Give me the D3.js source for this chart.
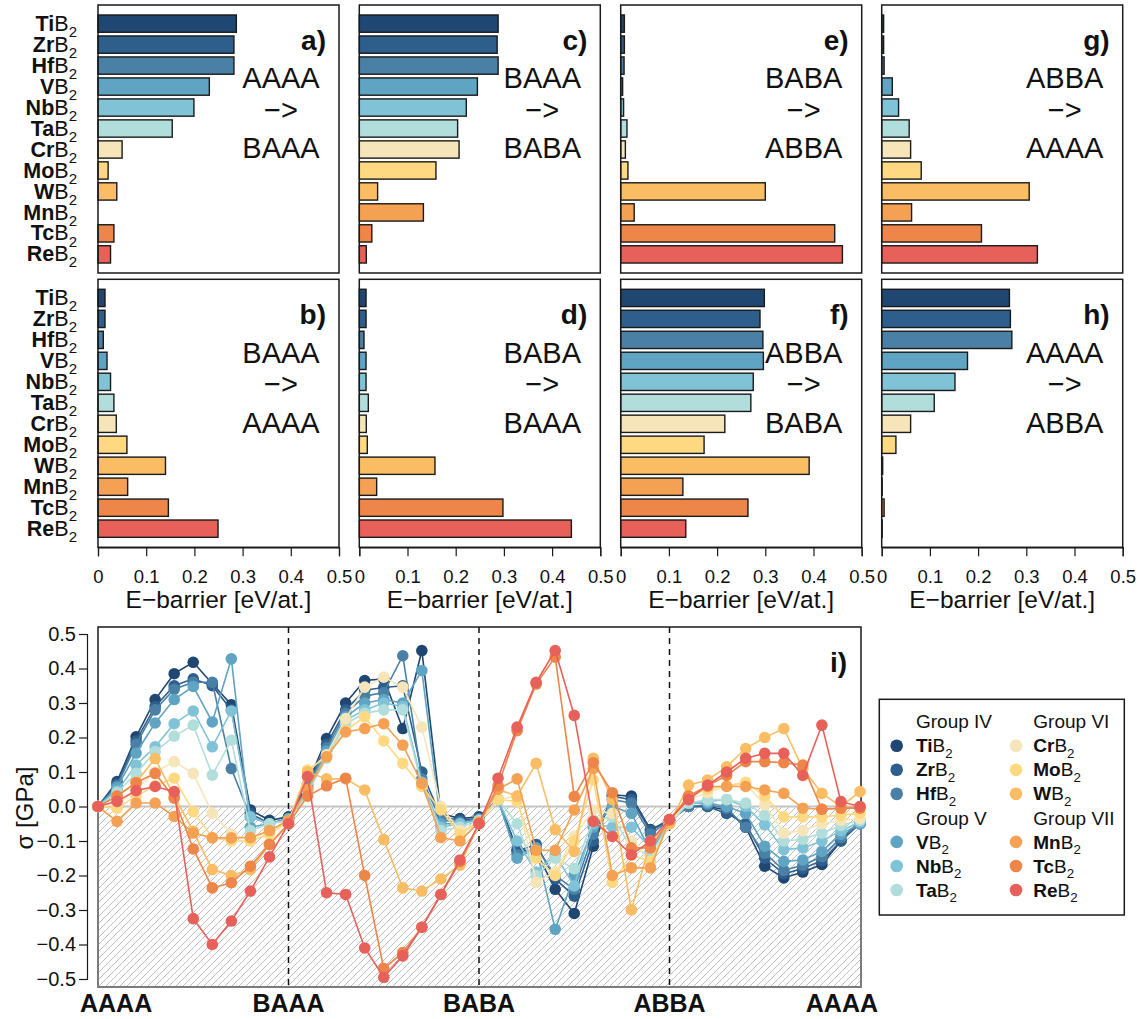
<!DOCTYPE html>
<html>
<head>
<meta charset="utf-8">
<script src="https://cdn.jsdelivr.net/npm/d3@7"></script>
<style>
body { margin: 0; background: #fff; }
text { font-family: "Liberation Sans", Arial, Helvetica, sans-serif; fill: #111; }
</style>
</head>
<body>
<svg id="fig" width="1143" height="1019"></svg>
<script>
/* data */
var compounds = ["Ti", "Zr", "Hf", "V", "Nb", "Ta", "Cr", "Mo", "W", "Mn", "Tc", "Re"];
var colors = ["#1f4771", "#2e5e8b", "#4a80a5", "#5fa4c2", "#80c3d7", "#b1dedb",
              "#f6e5b9", "#fed981", "#fbbd63", "#f5a154", "#ee8549", "#e8605a"];

// E-barrier [eV/at.] per panel, order as compounds
var barA = [0.287, 0.282, 0.282, 0.231, 0.199, 0.154, 0.050, 0.021, 0.039, 0, 0.033, 0.026];
var barB = [0.0145, 0.0145, 0.011, 0.0187, 0.026, 0.033, 0.038, 0.060, 0.140, 0.0615, 0.146, 0.249];
var barC = [0.288, 0.286, 0.288, 0.245, 0.222, 0.204, 0.207, 0.159, 0.038, 0.133, 0.026, 0.0145];
var barD = [0.014, 0.014, 0.0097, 0.014, 0.014, 0.0187, 0.0145, 0.0166, 0.157, 0.036, 0.298, 0.44];
var barE = [0.0076, 0.0076, 0.007, 0.004, 0.006, 0.013, 0.0097, 0.015, 0.300, 0.028, 0.444, 0.46];
var barF = [0.298, 0.289, 0.295, 0.296, 0.275, 0.270, 0.216, 0.173, 0.391, 0.129, 0.264, 0.135];
var barG = [0.004, 0.004, 0.005, 0.022, 0.035, 0.057, 0.060, 0.082, 0.306, 0.062, 0.207, 0.323];
var barH = [0.265, 0.267, 0.270, 0.178, 0.152, 0.109, 0.060, 0.0295, 0.002, 0.001, 0.005, 0.001];

var configs = ["AAAA", "BAAA", "BABA", "ABBA", "AAAA"];
var groups = [["Group IV", "Group V"], ["Group VI", "Group VII"]];

// sigma [GPa] along the path, 41 images
var sigmaTi = [0, 0.072, 0.202, 0.31, 0.385, 0.418, 0.356, 0.295, -0.01, -0.04, -0.03,
  0.065, 0.197, 0.3, 0.365, 0.37, 0.226, 0.452, -0.02, -0.035, -0.03,
  0.02, -0.125, -0.13, -0.24, -0.31, -0.115, 0.034, 0.03, -0.067, -0.04,
  0.0, 0.0, -0.01, -0.06, -0.173, -0.207, -0.19, -0.168, -0.1, -0.04];
var sigmaZr = [0, 0.065, 0.19, 0.29, 0.35, 0.37, 0.35, 0.28, -0.02, -0.05, -0.035,
  0.06, 0.18, 0.28, 0.337, 0.345, 0.35, 0.1, -0.03, -0.04, -0.035,
  0.02, -0.13, -0.11, -0.21, -0.26, -0.1, 0.03, 0.02, -0.07, -0.04,
  0.0, 0.0, -0.02, -0.05, -0.15, -0.195, -0.18, -0.157, -0.1, -0.05];
var sigmaHf = [0, 0.06, 0.18, 0.28, 0.34, 0.36, 0.36, 0.11, -0.03, -0.05, -0.035,
  0.055, 0.17, 0.27, 0.32, 0.33, 0.437, 0.08, -0.04, -0.045, -0.035,
  0.02, -0.14, -0.12, -0.2, -0.24, -0.08, 0.02, 0.01, -0.08, -0.04,
  0.0, 0.005, -0.005, -0.06, -0.135, -0.185, -0.17, -0.145, -0.09, -0.05];
var sigmaV = [0, 0.055, 0.155, 0.242, 0.31, 0.348, 0.245, 0.428, -0.06, -0.05, -0.035,
  0.05, 0.16, 0.26, 0.3, 0.31, 0.3, 0.394, -0.05, -0.05, -0.04,
  0.02, -0.15, -0.12, -0.356, -0.2, -0.06, 0.0, -0.02, -0.13, -0.05,
  0.01, 0.01, 0.0, -0.02, -0.115, -0.159, -0.155, -0.13, -0.08, -0.05];
var sigmaNb = [0, 0.045, 0.12, 0.173, 0.24, 0.277, 0.173, 0.277, -0.03, -0.05, -0.04,
  0.045, 0.15, 0.25, 0.28, 0.3, 0.29, 0.07, -0.06, -0.05, -0.04,
  0.02, -0.1, -0.19, -0.14, -0.23, -0.05, -0.06, -0.06, -0.12, -0.05,
  0.01, 0.015, 0.02, 0.0, -0.053, -0.125, -0.12, -0.1, -0.07, -0.045];
var sigmaTa = [0, 0.04, 0.096, 0.159, 0.204, 0.236, 0.091, 0.192, -0.07, -0.05, -0.04,
  0.04, 0.14, 0.24, 0.27, 0.28, 0.28, 0.06, -0.07, -0.06, -0.04,
  0.02, -0.05, -0.2, -0.15, -0.18, -0.04, -0.03, -0.12, -0.14, -0.05,
  0.01, 0.02, 0.02, 0.01, -0.025, -0.1, -0.095, -0.077, -0.055, -0.04];
var sigmaCr = [0, 0.005, 0.05, 0.1, 0.13, 0.096, -0.02, -0.08, -0.095, -0.07, -0.045,
  0.1, 0.15, 0.255, 0.346, 0.375, 0.346, 0.23, 0.0, -0.07, -0.045,
  0.02, 0.03, -0.22, -0.19, -0.086, -0.01, -0.02, -0.1, -0.16, -0.05,
  0.02, 0.04, 0.06, 0.065, 0.005, -0.077, -0.07, -0.05, -0.04, -0.035];
var sigmaMo = [0, -0.005, 0.03, 0.06, 0.082, -0.015, -0.09, -0.1, -0.1, -0.08, -0.045,
  0.106, 0.144, 0.22, 0.26, 0.19, 0.125, 0.058, -0.01, -0.08, -0.045,
  0.02, 0.015, -0.15, -0.2, -0.1, 0.077, -0.22, -0.14, -0.16, -0.05,
  0.03, 0.05, 0.06, 0.07, 0.03, -0.03, -0.03, -0.03, -0.025, -0.02];
var sigmaW = [0, 0.03, 0.07, 0.139, 0.03, -0.072, -0.183, -0.2, -0.183, -0.11, -0.05,
  0.1, 0.08, 0.08, 0.048, -0.096, -0.236, -0.245, -0.21, -0.17, -0.05,
  0.05, 0.03, 0.125, -0.067, -0.13, 0.14, 0.02, -0.3, -0.1, -0.05,
  0.062, 0.077, 0.115, 0.168, 0.2, 0.226, 0.11, 0.038, 0.0, 0.043];
var sigmaMn = [0, -0.043, 0.01, 0.01, -0.029, -0.077, -0.091, -0.091, -0.09, -0.07, -0.04,
  0.05, 0.144, 0.216, 0.226, 0.24, 0.178, 0.067, -0.09, -0.1, -0.045,
  0.05, 0.08, -0.127, -0.127, -0.01, 0.11, -0.2, -0.178, -0.178, -0.04,
  0.03, 0.058, 0.058, 0.058, 0.048, 0.038, -0.005, -0.008, -0.005, 0.0];
var sigmaTc = [0, 0.03, 0.069, 0.096, 0.024, -0.123, -0.236, -0.221, -0.173, -0.11, -0.05,
  0.03, 0.06, 0.082, -0.2, -0.47, -0.423, -0.35, -0.255, -0.16, -0.05,
  0.06, 0.22, 0.355, 0.433, 0.029, 0.127, 0.04, -0.12, -0.12, -0.04,
  0.03, 0.06, 0.09, 0.13, 0.13, 0.127, 0.12, -0.008, -0.005, -0.005];
var sigmaRe = [0, 0.015, 0.046, 0.058, 0.043, -0.325, -0.4, -0.332, -0.245, -0.146, -0.05,
  0.087, -0.25, -0.255, -0.41, -0.495, -0.433, -0.35, -0.255, -0.155, -0.05,
  0.082, 0.23, 0.36, 0.452, 0.264, -0.043, -0.087, -0.14, -0.1, -0.037,
  0.02, 0.062, 0.1, 0.14, 0.154, 0.154, 0.09, 0.236, 0.014, 0.0];

var sigmas = [sigmaTi, sigmaZr, sigmaHf, sigmaV, sigmaNb, sigmaTa,
              sigmaCr, sigmaMo, sigmaW, sigmaMn, sigmaTc, sigmaRe];

var svg = d3.select("#fig");

/* compound label: bold element, B, subscript 2 */
function compoundLabel(sel, el, size) {
    sel.append("tspan").attr("font-weight", "bold").text(el);
    sel.append("tspan").text("B");
    sel.append("tspan").attr("font-size", size * 0.7).attr("dy", size * 0.28).text("2");
}

/* ---------- bar panels a)-h) ---------- */
var panelW = 241,
    panelH = 268;
var colLeft = [98, 359.3, 620.7, 881.7];
var rowTop = [5, 279.3];

var panels = [
    {label: "a)", col: 0, row: 0, from: configs[0], to: configs[1], values: barA},
    {label: "b)", col: 0, row: 1, from: configs[1], to: configs[0], values: barB},
    {label: "c)", col: 1, row: 0, from: configs[1], to: configs[2], values: barC},
    {label: "d)", col: 1, row: 1, from: configs[2], to: configs[1], values: barD},
    {label: "e)", col: 2, row: 0, from: configs[2], to: configs[3], values: barE},
    {label: "f)", col: 2, row: 1, from: configs[3], to: configs[2], values: barF},
    {label: "g)", col: 3, row: 0, from: configs[3], to: configs[4], values: barG},
    {label: "h)", col: 3, row: 1, from: configs[4], to: configs[3], values: barH}
];

panels.forEach(function(p) {
    var left = colLeft[p.col],
        top = rowTop[p.row];

    var x = d3.scaleLinear()
        .domain([0, 0.5])
        .range([left, left + panelW]);

    var y = d3.scaleBand()
        .domain(compounds)
        .range([top, top + panelH])
        .paddingInner(0.176)
        .paddingOuter(0.476);

    var g = svg.append("g").attr("class", "panel");

    g.selectAll("rect.bar")
        .data(p.values.map(function(v, i) { return {name: compounds[i], value: v, color: colors[i]}; })
            .filter(function(d) { return d.value > 0; }))
        .enter().append("rect")
        .attr("class", "bar")
        .attr("x", x(0))
        .attr("y", function(d) { return y(d.name); })
        .attr("width", function(d) { return x(d.value) - x(0); })
        .attr("height", y.bandwidth())
        .attr("fill", function(d) { return d.color; })
        .attr("stroke", "#1a1a1a")
        .attr("stroke-width", 1.4);

    g.append("rect")
        .attr("x", left)
        .attr("y", top)
        .attr("width", panelW)
        .attr("height", panelH)
        .attr("fill", "none")
        .attr("stroke", "#1a1a1a")
        .attr("stroke-width", 1.5);

    g.append("text")
        .attr("x", left + 228)
        .attr("y", top + 45)
        .attr("text-anchor", "end")
        .attr("font-weight", "bold")
        .attr("font-size", 28)
        .text(p.label);

    [p.from, "\u2212>", p.to].forEach(function(t, i) {
        g.append("text")
            .attr("x", left + 183)
            .attr("y", top + [73, 106, 143][i])
            .attr("dy", i === 1 ? "0.3em" : "0.36em")
            .attr("text-anchor", "middle")
            .attr("font-size", 29)
            .text(t);
    });

    if (p.col === 0) {
        compounds.forEach(function(c) {
            var t = g.append("text")
                .attr("x", 77)
                .attr("y", y(c) + y.bandwidth() / 2)
                .attr("dy", "0.33em")
                .attr("text-anchor", "end")
                .attr("font-size", 21.5);
            compoundLabel(t, c, 21.5);
        });
    }

    if (p.row === 1) {
        var ax = g.append("g")
            .attr("transform", "translate(0," + (top + panelH) + ")")
            .call(d3.axisBottom(x)
                .tickValues([0, 0.1, 0.2, 0.3, 0.4, 0.5])
                .tickFormat(function(d) { return d === 0 ? "0" : d3.format(".1f")(d); })
                .tickSize(9)
                .tickPadding(14));
        ax.select(".domain").attr("stroke", "#1a1a1a").attr("stroke-width", 1.2);
        ax.selectAll(".tick line").attr("stroke", "#1a1a1a").attr("stroke-width", 1.2);
        ax.selectAll(".tick text")
            .attr("font-size", 18.5)
            .attr("fill", "#111")
            .style("font-family", "\"Liberation Sans\", Arial, sans-serif");

        g.append("text")
            .attr("x", left + panelW / 2)
            .attr("y", 608)
            .attr("text-anchor", "middle")
            .attr("font-size", 24.5)
            .text("E\u2212barrier [eV/at.]");
    }
});

/* ---------- panel i) stress along the path ---------- */
var boxL = 98, boxR = 861, boxT = 627, boxB = 987;

var xS = d3.scaleLinear()
    .domain([0, 40])
    .range([98, 860]);

var yS = d3.scaleLinear()
    .domain([-0.5, 0.5])
    .range([979, 634]);

var defs = svg.append("defs");
var pat = defs.append("pattern")
    .attr("id", "hatch")
    .attr("patternUnits", "userSpaceOnUse")
    .attr("width", 7)
    .attr("height", 7);
pat.append("path")
    .attr("d", "M-1,1 L1,-1 M0,7 L7,0 M6,8 L8,6")
    .attr("stroke", "#bdbdbd")
    .attr("stroke-width", 1);

var gi = svg.append("g").attr("class", "stress");

gi.append("rect")
    .attr("x", boxL)
    .attr("y", yS(0))
    .attr("width", boxR - boxL)
    .attr("height", boxB - yS(0))
    .attr("fill", "url(#hatch)");

gi.append("line")
    .attr("x1", boxL).attr("x2", boxR)
    .attr("y1", yS(0)).attr("y2", yS(0))
    .attr("stroke", "#c4c4c4")
    .attr("stroke-width", 2);

[10, 20, 30].forEach(function(v) {
    gi.append("line")
        .attr("x1", xS(v)).attr("x2", xS(v))
        .attr("y1", boxT).attr("y2", boxB)
        .attr("stroke", "#111")
        .attr("stroke-width", 1.5)
        .attr("stroke-dasharray", "6,5");
});

gi.append("rect")
    .attr("x", boxL)
    .attr("y", boxT)
    .attr("width", boxR - boxL)
    .attr("height", boxB - boxT)
    .attr("fill", "none")
    .attr("stroke", "#1a1a1a")
    .attr("stroke-width", 1.5);

gi.append("path")
    .attr("d", "M" + boxL + "," + yS(0) + "V" + boxB + "H" + boxR + "V" + yS(0))
    .attr("fill", "none")
    .attr("stroke", "#8a8a8a")
    .attr("stroke-width", 1.5);

var line = d3.line()
    .x(function(d, i) { return xS(i); })
    .y(function(d) { return yS(d); });

sigmas.forEach(function(s, k) {
    var sg = gi.append("g").attr("class", "series");
    sg.append("path")
        .attr("d", line(s))
        .attr("fill", "none")
        .attr("stroke", colors[k])
        .attr("stroke-width", 1.6);
    sg.selectAll("circle")
        .data(s)
        .enter().append("circle")
        .attr("cx", function(d, i) { return xS(i); })
        .attr("cy", function(d) { return yS(d); })
        .attr("r", 5.8)
        .attr("fill", colors[k]);
});

var yAx = gi.append("g")
    .attr("transform", "translate(87,0)")
    .call(d3.axisLeft(yS)
        .tickValues(d3.range(-5, 6).map(function(d) { return d / 10; }))
        .tickFormat(d3.format(".1f"))
        .tickSize(8)
        .tickPadding(3));
yAx.select(".domain").attr("stroke", "#1a1a1a").attr("stroke-width", 1.2);
yAx.selectAll(".tick line").attr("stroke", "#1a1a1a").attr("stroke-width", 1.2);
yAx.selectAll(".tick text")
    .attr("font-size", 20)
    .attr("fill", "#111")
    .style("font-family", "\"Liberation Sans\", Arial, sans-serif");

gi.append("text")
    .attr("transform", "translate(33,808) rotate(-90)")
    .attr("text-anchor", "middle")
    .attr("font-size", 24)
    .text("\u03c3 [GPa]");

configs.forEach(function(c, i) {
    var v = i * 10;
    var anchor = i === 0 ? "start" : (i === configs.length - 1 ? "end" : "middle");
    var off = i === 0 ? -18 : (i === configs.length - 1 ? 18 : 0);
    gi.append("text")
        .attr("x", xS(v) + off)
        .attr("y", 1012)
        .attr("text-anchor", anchor)
        .attr("font-weight", "bold")
        .attr("font-size", 25)
        .text(c);
});

gi.append("text")
    .attr("x", 847)
    .attr("y", 672)
    .attr("text-anchor", "end")
    .attr("font-weight", "bold")
    .attr("font-size", 28)
    .text("i)");

/* ---------- legend ---------- */
var lg = svg.append("g").attr("class", "legend");
lg.append("rect")
    .attr("x", 879.3)
    .attr("y", 699.3)
    .attr("width", 245)
    .attr("height", 215.7)
    .attr("fill", "#fff")
    .attr("stroke", "#1a1a1a")
    .attr("stroke-width", 1.5);

var rowY = d3.scaleLinear().domain([0, 7]).range([721.7, 890]);
var legCol = [{dot: 896.7, text: 916}, {dot: 1016, text: 1033.3}];

[0, 1].forEach(function(c) {
    [0, 1].forEach(function(gIdx) {
        var base = gIdx * 4;
        lg.append("text")
            .attr("x", legCol[c].text)
            .attr("y", rowY(base))
            .attr("dy", "0.35em")
            .attr("font-size", 19)
            .text(groups[c][gIdx]);
        for (var j = 0; j < 3; j++) {
            var k = c * 6 + gIdx * 3 + j;
            lg.append("circle")
                .attr("cx", legCol[c].dot)
                .attr("cy", rowY(base + 1 + j))
                .attr("r", 6.3)
                .attr("fill", colors[k]);
            var t = lg.append("text")
                .attr("x", legCol[c].text)
                .attr("y", rowY(base + 1 + j))
                .attr("dy", "0.35em")
                .attr("font-size", 19);
            compoundLabel(t, compounds[k], 19);
        }
    });
});
</script>
</body>
</html>
